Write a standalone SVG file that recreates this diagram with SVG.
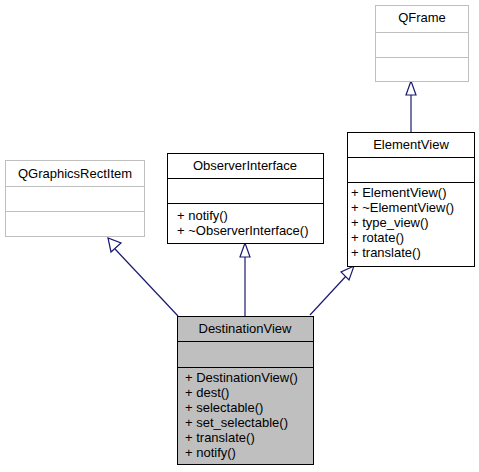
<svg xmlns="http://www.w3.org/2000/svg" width="479" height="472" viewBox="0 0 479 472">
<style>
text{font-family:"Liberation Sans",Arial,sans-serif;font-size:13px;fill:#000}
.c{text-anchor:middle}
.g rect,.g line{fill:#fff;stroke:#bfbfbf;stroke-width:1}
.n rect,.n line{fill:#fff;stroke:#000;stroke-width:1}
.m rect{fill:#bfbfbf;stroke:#000;stroke-width:1}
.m line{stroke:#000;stroke-width:1}
.e line{stroke:#191970;stroke-width:1.2}
.e polygon{fill:#fff;stroke:#191970;stroke-width:1.2}
</style>
<rect width="479" height="472" fill="#fff"/>
<g class="e" id="connectors">
<line x1="178" y1="316" x2="115" y2="249"/>
<polygon points="108,238 111,252 121,243"/>
<line x1="245" y1="316" x2="245" y2="257"/>
<polygon points="245,243 240,257 250,257"/>
<line x1="310" y1="315" x2="347" y2="275"/>
<polygon points="354,266 341,272 349,280"/>
<line x1="411" y1="132" x2="411" y2="95"/>
<polygon points="411,81 406,95 416,95"/>
</g>
<g class="g" id="QGraphicsRectItem">
<rect x="5.5" y="160.5" width="139" height="76"/>
<line x1="5.5" y1="186.5" x2="144.5" y2="186.5"/>
<line x1="5.5" y1="211.5" x2="144.5" y2="211.5"/>
<text class="c" x="75" y="178">QGraphicsRectItem</text>
</g>
<g class="n" id="ObserverInterface">
<rect x="167.5" y="153.5" width="156" height="90"/>
<line x1="167.5" y1="178.5" x2="323.5" y2="178.5"/>
<line x1="167.5" y1="203.5" x2="323.5" y2="203.5"/>
<text class="c" x="245" y="170">ObserverInterface</text>
<text x="177" y="220">+ notify()</text>
<text x="177" y="235">+ ~ObserverInterface()</text>
</g>
<g class="g" id="QFrame">
<rect x="375.5" y="5.5" width="93" height="76"/>
<line x1="375.5" y1="32.5" x2="468.5" y2="32.5"/>
<line x1="375.5" y1="57.5" x2="468.5" y2="57.5"/>
<text class="c" x="422" y="22">QFrame</text>
</g>
<g class="n" id="ElementView">
<rect x="347.5" y="132.5" width="127" height="134"/>
<line x1="347.5" y1="157.5" x2="474.5" y2="157.5"/>
<line x1="347.5" y1="182.5" x2="474.5" y2="182.5"/>
<text class="c" x="411" y="149">ElementView</text>
<text x="351" y="197">+ ElementView()</text>
<text x="351" y="212">+ ~ElementView()</text>
<text x="351" y="227">+ type_view()</text>
<text x="351" y="242">+ rotate()</text>
<text x="351" y="257">+ translate()</text>
</g>
<g class="m" id="DestinationView">
<rect x="177.5" y="316.5" width="136" height="148"/>
<line x1="177.5" y1="341.5" x2="313.5" y2="341.5"/>
<line x1="177.5" y1="367.5" x2="313.5" y2="367.5"/>
<text class="c" x="245" y="333">DestinationView</text>
<text x="185" y="382">+ DestinationView()</text>
<text x="185" y="397">+ dest()</text>
<text x="185" y="412">+ selectable()</text>
<text x="185" y="427">+ set_selectable()</text>
<text x="185" y="442">+ translate()</text>
<text x="185" y="457">+ notify()</text>
</g>
</svg>
